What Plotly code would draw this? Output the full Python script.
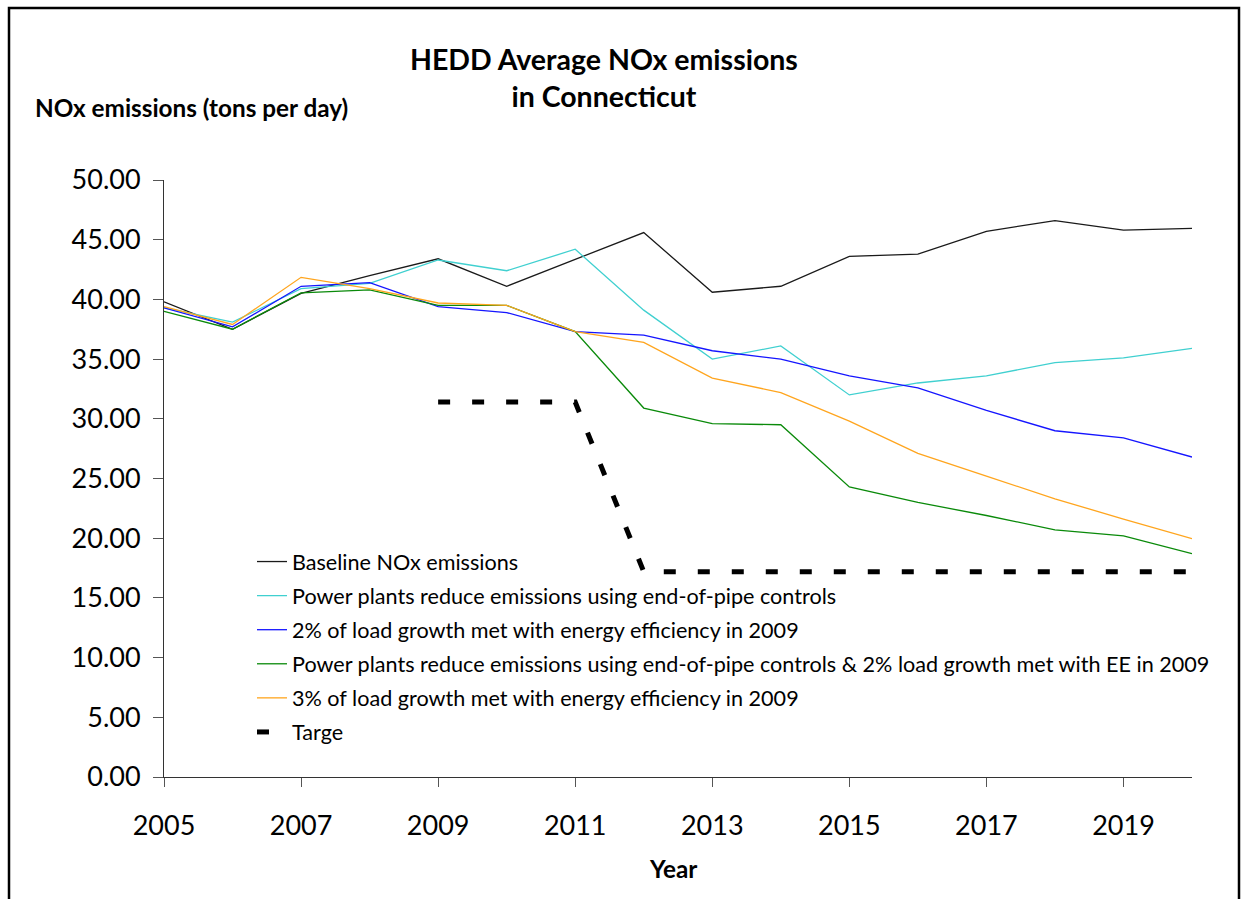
import plotly.graph_objects as go

years = list(range(2005, 2021))
baseline = [39.8, 37.5, 40.5, 42.0, 43.4, 41.1, 43.35, 45.6, 40.6, 41.1, 43.6, 43.8, 45.7, 46.6, 45.8, 45.95]
end_of_pipe = [39.3, 38.1, 40.9, 41.35, 43.3, 42.4, 44.2, 39.1, 35.0, 36.1, 32.0, 33.0, 33.6, 34.7, 35.1, 35.9]
ee_2pct = [39.3, 37.7, 41.1, 41.4, 39.4, 38.9, 37.3, 37.0, 35.7, 35.0, 33.6, 32.6, 30.7, 29.0, 28.4, 26.8]
pipe_and_ee = [39.0, 37.5, 40.55, 40.8, 39.5, 39.5, 37.3, 30.9, 29.6, 29.5, 24.3, 23.0, 21.9, 20.7, 20.2, 18.7]
ee_3pct = [39.4, 37.9, 41.85, 40.9, 39.7, 39.5, 37.3, 36.4, 33.4, 32.2, 29.8, 27.1, 25.2, 23.3, 21.6, 19.96]
target = [None, None, None, None, 31.4, 31.4, 31.4, 17.2, 17.2, 17.2, 17.2, 17.2, 17.2, 17.2, 17.2, 17.2]

names = [
    "Baseline NOx emissions",
    "Power plants reduce emissions using end-of-pipe controls",
    "2% of load growth met with energy efficiency in 2009",
    "Power plants reduce emissions using end-of-pipe controls & 2% load growth met with EE in 2009",
    "3% of load growth met with energy efficiency in 2009",
    "Targe",
]
colors = ["#1a1a1a", "#40D0D0", "#1515FF", "#0A8A0A", "#FFA51E", "#000000"]
series = [baseline, end_of_pipe, ee_2pct, pipe_and_ee, ee_3pct]

FONT = "Lato"
W, H = 1246, 899
L, R, T, B = 164, 1192, 180, 777
pw, ph = R - L, B - T

def px_x(x):
    return (x - L) / pw

def px_y(y):
    return (B - y) / ph

fig = go.Figure()
for i, (vals, nm, col) in enumerate(zip(series, names, colors)):
    fig.add_trace(go.Scatter(x=years, y=vals, mode="lines", name=nm,
                             line=dict(color=col, width=1.3), legendgroup=str(i)))
fig.add_trace(go.Scatter(x=years, y=target, mode="lines", name=names[5],
                         line=dict(color="#000000", width=5, dash="12px,22px"),
                         legendgroup="5", connectgaps=False))

fig.update_layout(
    width=W, height=H,
    margin=dict(l=L, r=W - R, t=T, b=H - B),
    paper_bgcolor="white", plot_bgcolor="white",
    font=dict(family=FONT, color="black"),
    showlegend=True,
    legend=dict(x=px_x(252), y=px_y(541), xanchor="left", yanchor="top",
                font=dict(size=21.6, family=FONT, color="black"),
                bgcolor="rgba(0,0,0,0)", borderwidth=0,
                tracegroupgap=3, traceorder="grouped"),
    xaxis=dict(range=[2005, 2020], dtick=2, tick0=2005, showgrid=False, zeroline=False,
               showline=True, linecolor="#333333", linewidth=1,
               ticks="outside", ticklen=9, tickcolor="#555555",
               tickfont=dict(size=27, family=FONT), ticklabelstandoff=16),
    yaxis=dict(range=[0, 50], dtick=5, tickformat=".2f", showgrid=False, zeroline=False,
               showline=True, linecolor="#333333", linewidth=1,
               ticks="outside", ticklen=10, tickcolor="#555555",
               tickfont=dict(size=27, family=FONT), ticklabelstandoff=7),
    annotations=[
        dict(text="<b>HEDD Average NOx emissions<br>in Connecticut</b>", x=px_x(604), y=px_y(78),
             xref="paper", yref="paper", xanchor="center", yanchor="middle", showarrow=False,
             font=dict(size=28.5, family=FONT)),
        dict(text="<b>NOx emissions (tons per day)</b>", x=px_x(33), y=px_y(108),
             xref="paper", yref="paper", xanchor="left", yanchor="middle", showarrow=False,
             font=dict(size=24.3, family=FONT)),
        dict(text="<b>Year</b>", x=px_x(673), y=px_y(868),
             xref="paper", yref="paper", xanchor="center", yanchor="middle", showarrow=False,
             font=dict(size=24.3, family=FONT)),
    ],
    shapes=[
        dict(type="rect", xref="paper", yref="paper",
             x0=px_x(9), x1=px_x(1239), y0=px_y(910), y1=px_y(8),
             line=dict(color="black", width=2.5), fillcolor="rgba(0,0,0,0)", layer="below"),
    ],
)

fig.write_html("out.html", config={"displayModeBar": False},
               post_script="document.body.style.margin='0px';document.body.style.overflow='hidden';document.documentElement.style.overflow='hidden';")
